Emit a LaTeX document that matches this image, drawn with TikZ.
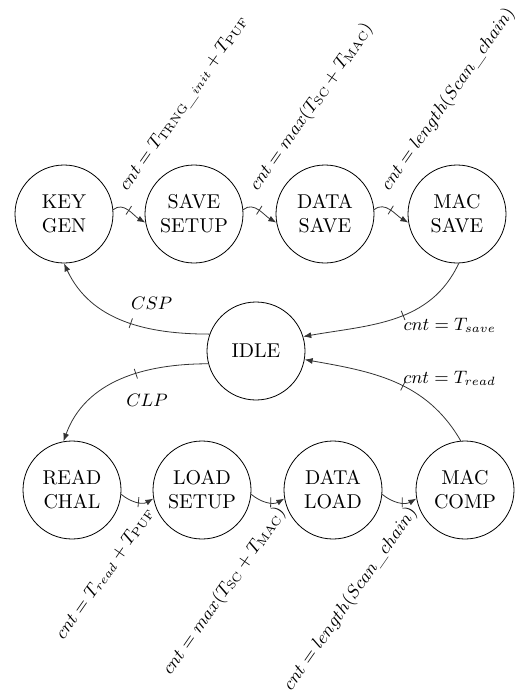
\documentclass[tikz,border=0pt]{standalone}
\usetikzlibrary{arrows.meta}
\begin{document}
\begin{tikzpicture}[x=0.5pt,y=-0.5pt,
  state/.style={circle,draw,minimum size=49pt,inner sep=0pt,align=center},
  trans/.style={draw=black!80,-{Latex[length=4pt,width=3pt]}},
  tick/.style={sloped,draw=black!80,rectangle,inner sep=0pt,minimum width=0pt,minimum height=5pt},
  lblfont/.style={font=\fontsize{9.2}{11}\selectfont},
  uplbl/.style={lblfont,rotate=55,anchor=base west,inner sep=0pt,xshift=7pt,yshift=6pt},
  dnlbl/.style={lblfont,rotate=55,anchor=east,inner sep=0pt,xshift=0.5pt,yshift=-6.5pt},
  sidelbl/.style={lblfont,inner sep=0pt}]
\useasboundingbox (0,0) rectangle (515,690);

% save sequence
\node[state] (keygen)    at (64,214)  {KEY\\GEN};
\node[state] (savesetup) at (194,214) {SAVE\\SETUP};
\node[state] (datasave)  at (325,214) {DATA\\SAVE};
\node[state] (macsave)   at (457,214) {MAC\\SAVE};

% idle state
\node[state] (idle) at (256,351) {IDLE};

% load sequence
\node[state] (readchal)  at (72,490)  {READ\\CHAL};
\node[state] (loadsetup) at (202,490) {LOAD\\SETUP};
\node[state] (dataload)  at (333,490) {DATA\\LOAD};
\node[state] (maccomp)   at (465,490) {MAC\\COMP};

% save chain transitions
\draw[trans] (keygen.5) to[out=40,in=150]
  node[tick,pos=0.5]{}
  node[uplbl,pos=0.5]{$cnt = T_{\mathrm{TRNG}\_init} + T_{\mathrm{PUF}}$} (savesetup.190);
\draw[trans] (savesetup.5) to[out=40,in=150]
  node[tick,pos=0.5]{}
  node[uplbl,pos=0.5]{$cnt = max(T_{\mathrm{SC}} + T_{\mathrm{MAC}})$} (datasave.190);
\draw[trans] (datasave.5) to[out=40,in=150]
  node[tick,pos=0.5]{}
  node[uplbl,pos=0.5]{$cnt = length(Scan\_chain)$} (macsave.190);

% load chain transitions
\draw[trans] (readchal.-5) to[out=-40,in=-150]
  node[tick,pos=0.55]{}
  node[dnlbl,pos=0.55]{$cnt = T_{read} + T_{\mathrm{PUF}}$} (loadsetup.-170);
\draw[trans] (loadsetup.-5) to[out=-40,in=-150]
  node[tick,pos=0.6]{}
  node[dnlbl,pos=0.6]{$cnt = max(T_{\mathrm{SC}} + T_{\mathrm{MAC}})$} (dataload.-170);
\draw[trans] (dataload.-5) to[out=-40,in=-150]
  node[tick,pos=0.6]{}
  node[dnlbl,pos=0.6]{$cnt = length(Scan\_chain)$} (maccomp.-170);

% transitions through idle
\draw[trans] (idle.160) to[out=180,in=-65]
  node[tick,pos=0.45]{}
  node[sidelbl,pos=0.45,anchor=south west,yshift=6.5pt]{$CSP$} (keygen.-90);
\draw[trans] (macsave.-88) to[out=-115,in=10]
  node[tick,pos=0.45]{}
  node[sidelbl,pos=0.45,anchor=north west,xshift=0pt,yshift=-1pt]{$cnt = T_{save}$} (idle.17);
\draw[trans] (idle.-165) to[out=180,in=70]
  node[tick,pos=0.4]{}
  node[sidelbl,pos=0.4,anchor=north west,xshift=-5pt,yshift=-10pt]{$CLP$} (readchal.100);
\draw[trans] (maccomp.95) to[out=120,in=-10]
  node[tick,pos=0.45]{}
  node[sidelbl,pos=0.45,anchor=south west,xshift=0pt]{$cnt = T_{read}$} (idle.-10);
\end{tikzpicture}
\end{document}
